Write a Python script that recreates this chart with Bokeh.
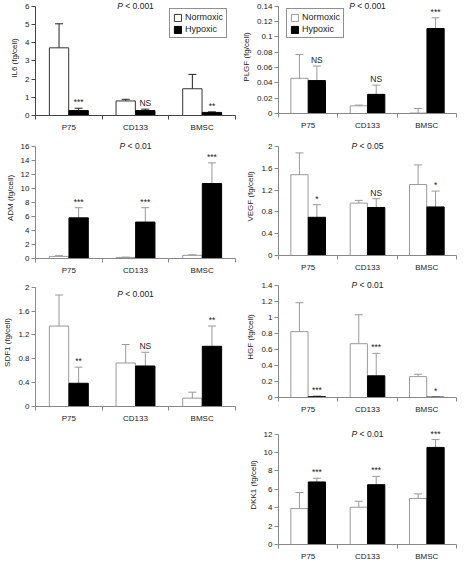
from bokeh.plotting import figure
from bokeh.layouts import row, column
from bokeh.models import (ColumnDataSource, Whisker, TeeHead, FixedTicker,
                          PrintfTickFormatter, Range1d, Label, LabelSet, Legend, LegendItem)
from bokeh.core.properties import value
from bokeh.embed import file_html
from bokeh.resources import INLINE

categories = ["P75", "CD133", "BMSC"]
series = ["Normoxic", "Hypoxic"]

il6_norm = [3.72, 0.80, 1.47]
il6_norm_err = [1.32, 0.09, 0.79]
il6_hyp = [0.27, 0.27, 0.17]
il6_hyp_err = [0.13, 0.08, 0.03]
il6_sig = ["***", "NS", "**"]
il6_p = "< 0.001"
il6_yticks = [0, 1, 2, 3, 4, 5, 6]

plgf_norm = [0.046, 0.010, 0.0005]
plgf_norm_err = [0.031, 0.001, 0.006]
plgf_hyp = [0.043, 0.025, 0.111]
plgf_hyp_err = [0.019, 0.012, 0.014]
plgf_sig = ["NS", "NS", "***"]
plgf_p = "< 0.001"
plgf_yticks = [0, 0.02, 0.04, 0.06, 0.08, 0.1, 0.12, 0.14]

adm_norm = [0.30, 0.15, 0.45]
adm_norm_err = [0.10, 0.05, 0.08]
adm_hyp = [5.8, 5.2, 10.7]
adm_hyp_err = [1.45, 2.05, 2.95]
adm_sig = ["***", "***", "***"]
adm_p = "< 0.01"
adm_yticks = [0, 2, 4, 6, 8, 10, 12, 14, 16]

vegf_norm = [1.48, 0.96, 1.30]
vegf_norm_err = [0.40, 0.05, 0.36]
vegf_hyp = [0.70, 0.88, 0.89]
vegf_hyp_err = [0.23, 0.16, 0.29]
vegf_sig = ["*", "NS", "*"]
vegf_p = "< 0.05"
vegf_yticks = [0, 0.4, 0.8, 1.2, 1.6, 2]

sdf1_norm = [1.35, 0.73, 0.14]
sdf1_norm_err = [0.52, 0.31, 0.10]
sdf1_hyp = [0.39, 0.68, 1.01]
sdf1_hyp_err = [0.27, 0.23, 0.34]
sdf1_sig = ["**", "NS", "**"]
sdf1_p = "< 0.001"
sdf1_yticks = [0, 0.4, 0.8, 1.2, 1.6, 2]

hgf_norm = [0.82, 0.67, 0.26]
hgf_norm_err = [0.36, 0.36, 0.03]
hgf_hyp = [0.010, 0.27, 0.005]
hgf_hyp_err = [0.010, 0.28, 0.003]
hgf_sig = ["***", "***", "*"]
hgf_p = "< 0.01"
hgf_yticks = [0, 0.2, 0.4, 0.6, 0.8, 1, 1.2, 1.4]

dkk1_norm = [3.9, 4.05, 5.0]
dkk1_norm_err = [1.75, 0.65, 0.5]
dkk1_hyp = [6.8, 6.5, 10.55]
dkk1_hyp_err = [0.4, 0.9, 0.85]
dkk1_sig = ["***", "***", "***"]
dkk1_p = "< 0.01"
dkk1_yticks = [0, 2, 4, 6, 8, 10, 12]

FONT = "Liberation Sans"
TXT = "#222222"
CW = {".": 2.4, "<": 5.0, " ": 2.4}


def panel(ylabel, yticks, norm, norm_err, hyp, hyp_err, sig, ptxt, width, height,
          borders, dark=False, legend=None, p_y=None):
    top, bottom, left, right = borders
    extra = min(top, 9)
    frame_h = height - (top - extra) - bottom
    axis_px = frame_h - extra
    y_end = yticks[-1] * frame_h / axis_px
    edge = "#333333" if dark else "#999999"
    axis_c = "#444444" if dark else "#888888"
    err_c = "#222222" if dark else "#999999"
    p = figure(width=width, height=height, output_backend="svg", toolbar_location=None,
               x_range=Range1d(0, len(categories)), y_range=Range1d(yticks[0], y_end),
               min_border_top=top - extra, min_border_bottom=bottom, min_border_left=left,
               min_border_right=right)
    p.outline_line_color = None
    p.xgrid.visible = False
    p.ygrid.visible = False
    bw = 0.29
    off = 0.147
    xn = [i + 0.5 - off for i in range(len(categories))]
    xh = [i + 0.5 + off for i in range(len(categories))]
    src_n = ColumnDataSource(dict(x=xn, top=norm,
                                  lo=[v - e for v, e in zip(norm, norm_err)],
                                  hi=[v + e for v, e in zip(norm, norm_err)]))
    src_h = ColumnDataSource(dict(x=xh, top=hyp,
                                  hi=[v + e for v, e in zip(hyp, hyp_err)], sig=sig))
    rn = p.vbar(x="x", top="top", bottom=0, width=bw, source=src_n,
                fill_color="white", line_color=edge, line_width=1)
    rh = p.vbar(x="x", top="top", bottom=0, width=bw, source=src_h,
                fill_color="black", line_color="black", line_width=1)
    p.add_layout(Whisker(base="x", lower="lo", upper="hi", source=src_n,
                         line_color=err_c, line_width=1,
                         upper_head=TeeHead(size=8, line_color=err_c, line_width=1),
                         lower_head=TeeHead(size=8, line_color=err_c, line_width=1)))
    p.add_layout(Whisker(base="x", lower="top", upper="hi", source=src_h,
                         line_color=err_c, line_width=1,
                         upper_head=TeeHead(size=8, line_color=err_c, line_width=1),
                         lower_head=None))
    p.add_layout(LabelSet(x="x", y="hi", text="sig", source=src_h, text_align="center",
                          text_baseline="bottom", y_offset=1, text_font=value(FONT),
                          text_font_size=value("8.5px"), text_color=TXT))
    # P-value text
    py = yticks[-1] if p_y is None else p_y
    rest_w = sum(CW.get(c, 4.7) for c in ptxt)
    half = (5.7 + 2.4 + rest_w) / 2
    p.add_layout(Label(x=len(categories) / 2, y=py, text="P", text_align="left",
                       text_baseline="middle", x_offset=-half, text_font=FONT,
                       text_font_style="italic", text_font_size="8.5px", text_color=TXT))
    p.add_layout(Label(x=len(categories) / 2, y=py, text=ptxt, text_align="left",
                       text_baseline="middle", x_offset=-half + 8.1, text_font=FONT,
                       text_font_size="8.5px", text_color=TXT))
    # axes
    xa = p.xaxis[0]
    xa.ticker = FixedTicker(ticks=[i + 0.5 for i in range(len(categories))],
                            minor_ticks=list(range(len(categories) + 1)))
    xa.major_label_overrides = {i + 0.5: c for i, c in enumerate(categories)}
    xa.major_tick_out = 0
    xa.major_tick_in = 0
    xa.minor_tick_out = 4
    xa.minor_tick_in = 0
    xa.minor_tick_line_color = axis_c
    xa.axis_line_color = axis_c
    xa.major_label_standoff = 3
    xa.major_label_text_font = FONT
    xa.major_label_text_font_size = "8px"
    xa.major_label_text_color = TXT
    ya = p.yaxis[0]
    ya.ticker = FixedTicker(ticks=yticks, minor_ticks=[])
    ya.bounds = (yticks[0], yticks[-1])
    ya.formatter = PrintfTickFormatter(format="%g")
    ya.major_tick_out = 4
    ya.major_tick_in = 0
    ya.minor_tick_out = 0
    ya.minor_tick_in = 0
    ya.major_tick_line_color = axis_c
    ya.axis_line_color = axis_c
    ya.major_label_standoff = 2
    ya.major_label_text_font = FONT
    ya.major_label_text_font_size = "8px"
    ya.major_label_text_color = TXT
    ya.axis_label = ylabel
    ya.axis_label_text_font = FONT
    ya.axis_label_text_font_size = "8px"
    ya.axis_label_text_font_style = "normal"
    ya.axis_label_text_color = TXT
    ya.axis_label_standoff = 3
    if legend is not None:
        lg = Legend(items=[LegendItem(label=series[0], renderers=[rn]),
                           LegendItem(label=series[1], renderers=[rh])],
                    location=legend, margin=8, padding=3, spacing=2,
                    glyph_width=9, glyph_height=9, label_height=10,
                    label_standoff=3, label_text_font=FONT,
                    label_text_font_size="9px", label_text_color=TXT,
                    border_line_color="#222222", border_line_width=1,
                    background_fill_color="white", background_fill_alpha=1)
        p.add_layout(lg, "center")
    return p


WL, WR = 238, 222
p_il6 = panel("IL6 (fg/cell)", il6_yticks, il6_norm, il6_norm_err, il6_hyp, il6_hyp_err,
              il6_sig, il6_p, WL, 134, (6, 16, 20, 3), dark=True, legend="top_right")
p_adm = panel("ADM (fg/cell)", adm_yticks, adm_norm, adm_norm_err, adm_hyp, adm_hyp_err,
              adm_sig, adm_p, WL, 143, (12, 18, 20, 3))
p_sdf = panel("SDF1 (fg/cell)", sdf1_yticks, sdf1_norm, sdf1_norm_err, sdf1_hyp,
              sdf1_hyp_err, sdf1_sig, sdf1_p, WL, 148, (10, 16, 20, 3), p_y=1.88)
p_plgf = panel("PLGF (fg/cell)", plgf_yticks, plgf_norm, plgf_norm_err, plgf_hyp,
               plgf_hyp_err, plgf_sig, plgf_p, WR, 132, (6, 16, 30, 4), legend="top_left")
p_vegf = panel("VEGF (fg/cell)", vegf_yticks, vegf_norm, vegf_norm_err, vegf_hyp,
               vegf_hyp_err, vegf_sig, vegf_p, WR, 142, (14, 17, 30, 4))
p_hgf = panel("HGF (fg/cell)", hgf_yticks, hgf_norm, hgf_norm_err, hgf_hyp, hgf_hyp_err,
              hgf_sig, hgf_p, WR, 142, (11, 13, 30, 4))
p_dkk = panel("DKK1 (fg/cell)", dkk1_yticks, dkk1_norm, dkk1_norm_err, dkk1_hyp,
              dkk1_hyp_err, dkk1_sig, dkk1_p, WR, 147, (18, 13, 30, 4))

layout = row(column(p_il6, p_adm, p_sdf), column(p_plgf, p_vegf, p_hgf, p_dkk))

open("out.html", "w").write(file_html(layout, INLINE))
